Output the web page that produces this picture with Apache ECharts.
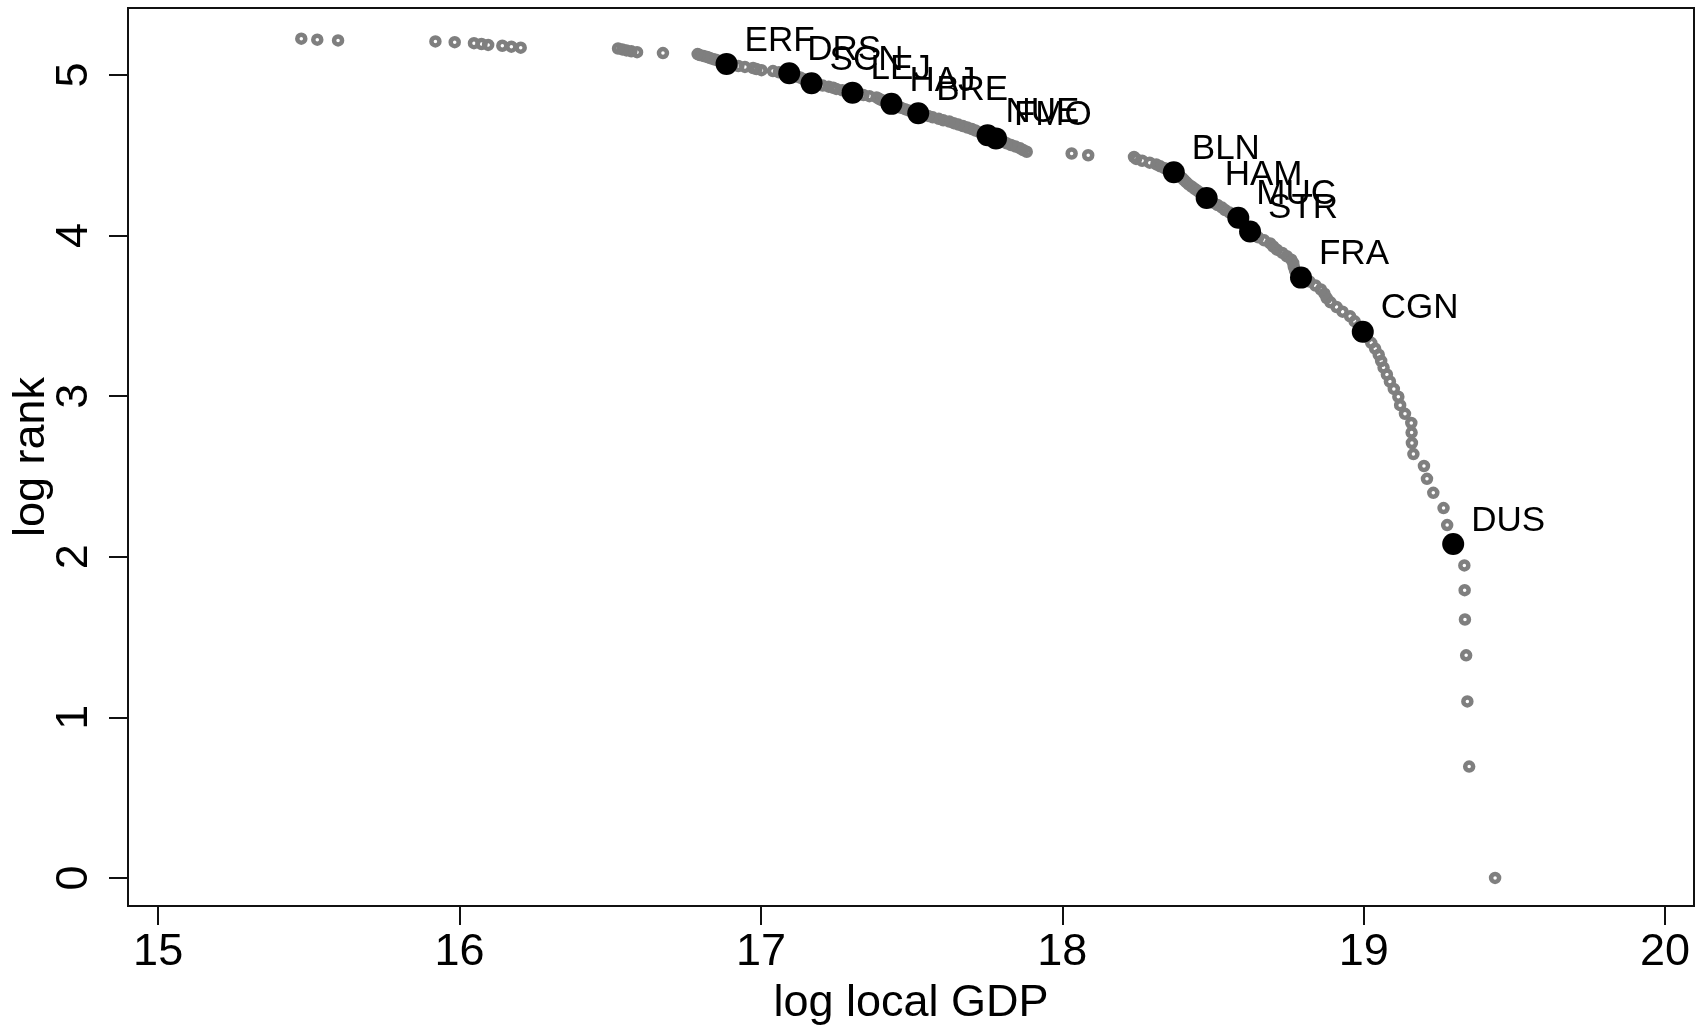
<!DOCTYPE html>
<html>
<head>
<meta charset="utf-8">
<script src="https://cdn.jsdelivr.net/npm/echarts@6/dist/echarts.min.js"></script>
<style>html,body{margin:0;padding:0;background:#fff;}#chart{width:1702px;height:1030px;}</style>
</head>
<body>
<div id="chart"></div>
<script>
// log local GDP of every region, ordered by rank 1..186
const logGdp = [
19.436,19.350,19.344,19.340,19.336,19.335,19.334,19.297,19.277,19.265,
19.231,19.210,19.200,19.165,19.160,19.159,19.158,19.137,19.121,19.115,
19.100,19.087,19.077,19.066,19.058,19.050,19.038,19.025,19.010,18.997,
18.985,18.970,18.955,18.930,18.910,18.890,18.877,18.870,18.858,18.840,
18.820,18.792,18.780,18.772,18.768,18.766,18.760,18.745,18.730,18.712,
18.700,18.690,18.670,18.650,18.635,18.623,18.615,18.605,18.598,18.590,
18.584,18.570,18.555,18.540,18.530,18.515,18.500,18.490,18.479,18.468,
18.460,18.450,18.440,18.430,18.420,18.412,18.405,18.398,18.390,18.380,
18.370,18.355,18.340,18.325,18.312,18.290,18.265,18.245,18.238,18.086,
18.031,17.882,17.870,17.860,17.845,17.830,17.815,17.805,17.795,17.780,
17.768,17.752,17.740,17.725,17.712,17.700,17.685,17.670,17.655,17.640,
17.625,17.605,17.590,17.570,17.555,17.540,17.522,17.505,17.490,17.478,
17.465,17.455,17.445,17.433,17.420,17.410,17.400,17.392,17.384,17.360,
17.340,17.320,17.304,17.290,17.270,17.250,17.240,17.225,17.205,17.185,
17.168,17.160,17.152,17.145,17.138,17.130,17.120,17.110,17.100,17.094,
17.060,17.040,17.002,16.985,16.974,16.947,16.925,16.905,16.886,16.876,
16.868,16.860,16.850,16.840,16.830,16.822,16.810,16.797,16.790,16.675,
16.589,16.570,16.554,16.540,16.526,16.203,16.172,16.142,16.095,16.073,
16.048,15.984,15.920,15.597,15.528,15.475
];
// log rank of every region, same order
const logRank = [
0.000,0.693,1.099,1.386,1.609,1.792,1.946,2.079,2.197,2.303,
2.398,2.485,2.565,2.639,2.708,2.773,2.833,2.890,2.944,2.996,
3.045,3.091,3.135,3.178,3.219,3.258,3.296,3.332,3.367,3.401,
3.434,3.466,3.497,3.526,3.555,3.584,3.611,3.638,3.664,3.689,
3.714,3.738,3.761,3.784,3.807,3.829,3.850,3.871,3.892,3.912,
3.932,3.951,3.970,3.989,4.007,4.025,4.043,4.060,4.078,4.094,
4.111,4.127,4.143,4.159,4.174,4.190,4.205,4.220,4.234,4.248,
4.263,4.277,4.290,4.304,4.317,4.331,4.344,4.357,4.369,4.382,
4.394,4.407,4.419,4.431,4.443,4.454,4.466,4.477,4.489,4.500,
4.511,4.522,4.533,4.543,4.554,4.564,4.575,4.585,4.595,4.605,
4.615,4.625,4.635,4.644,4.654,4.663,4.673,4.682,4.691,4.700,
4.710,4.718,4.727,4.736,4.745,4.754,4.762,4.771,4.779,4.787,
4.796,4.804,4.812,4.820,4.828,4.836,4.844,4.852,4.860,4.868,
4.875,4.883,4.890,4.898,4.905,4.913,4.920,4.927,4.934,4.942,
4.949,4.956,4.963,4.970,4.977,4.984,4.990,4.997,5.004,5.011,
5.017,5.024,5.030,5.037,5.043,5.050,5.056,5.063,5.069,5.075,
5.081,5.088,5.094,5.100,5.106,5.112,5.118,5.124,5.130,5.136,
5.142,5.147,5.153,5.159,5.165,5.170,5.176,5.182,5.187,5.193,
5.198,5.204,5.209,5.215,5.220,5.226
];
// highlighted cities
const cityCodes = ["ERF","DRS","SCN","LEJ","HAJ","BRE","NUE","FMO","BLN","HAM","MUC","STR","FRA","CGN","DUS"];
const cityGdp   = [16.886,17.094,17.168,17.304,17.433,17.522,17.752,17.780,18.370,18.479,18.584,18.623,18.792,18.997,19.297];
const cityRank  = [5.069,5.011,4.949,4.890,4.820,4.762,4.625,4.605,4.394,4.234,4.111,4.025,3.738,3.401,2.079];
// axis ticks
const xTicks = [15,16,17,18,19,20];
const yTicks = [0,1,2,3,4,5];

const X_MIN = 14.9, X_MAX = 20.096, Y_MIN = -0.175, Y_MAX = 5.417;
const FONT = "'Liberation Sans', Arial, sans-serif";
const chart = echarts.init(document.getElementById('chart'));
const allPts = logGdp.map((x,i)=>[x, logRank[i]]);
const cityPts = cityGdp.map((x,i)=>({value:[x, cityRank[i]], name:cityCodes[i]}));

chart.setOption({
  animation:false,
  grid:{left:128,right:8,top:8,bottom:124,show:true,borderColor:'#111',borderWidth:2,outerBoundsMode:'none'},
  xAxis:{
    type:'value',min:X_MIN,max:X_MAX,
    name:'log local GDP',nameLocation:'middle',nameGap:75,nameMoveOverlap:false,
    nameTextStyle:{fontFamily:FONT,fontSize:45,color:'#000'},
    axisLine:{show:true,onZero:false,lineStyle:{color:'#111',width:2}},
    splitLine:{show:false},
    axisTick:{show:true,inside:false,length:19,customValues:xTicks,lineStyle:{color:'#111',width:2}},
    axisLabel:{customValues:xTicks,fontFamily:FONT,fontSize:45,color:'#000',margin:24}
  },
  yAxis:{
    type:'value',min:Y_MIN,max:Y_MAX,
    name:'log rank',nameLocation:'middle',nameGap:74,nameRotate:90,nameMoveOverlap:false,
    nameTextStyle:{fontFamily:FONT,fontSize:45,color:'#000'},
    axisLine:{show:true,onZero:false,lineStyle:{color:'#111',width:2}},
    splitLine:{show:false},
    axisTick:{show:true,inside:false,length:19,customValues:yTicks,lineStyle:{color:'#111',width:2}},
    axisLabel:{customValues:yTicks,rotate:90,fontFamily:FONT,fontSize:45,color:'#000',margin:31}
  },
  series:[
    {
      type:'scatter',data:allPts,symbol:'circle',symbolSize:8,
      itemStyle:{color:'rgba(0,0,0,0)',borderColor:'#7f7f7f',borderWidth:4.5,opacity:1},
      emphasis:{disabled:true},z:2
    },
    {
      type:'scatter',data:cityPts,symbol:'circle',symbolSize:22,
      itemStyle:{color:'#000',opacity:1},
      label:{show:true,formatter:'{b}',position:[29,-12],align:'left',verticalAlign:'middle',
             fontFamily:FONT,fontSize:35,color:'#000',opacity:1,textBorderWidth:0},
      labelLayout:{hideOverlap:false},
      emphasis:{disabled:true},z:3
    }
  ]
});
</script>
</body>
</html>
